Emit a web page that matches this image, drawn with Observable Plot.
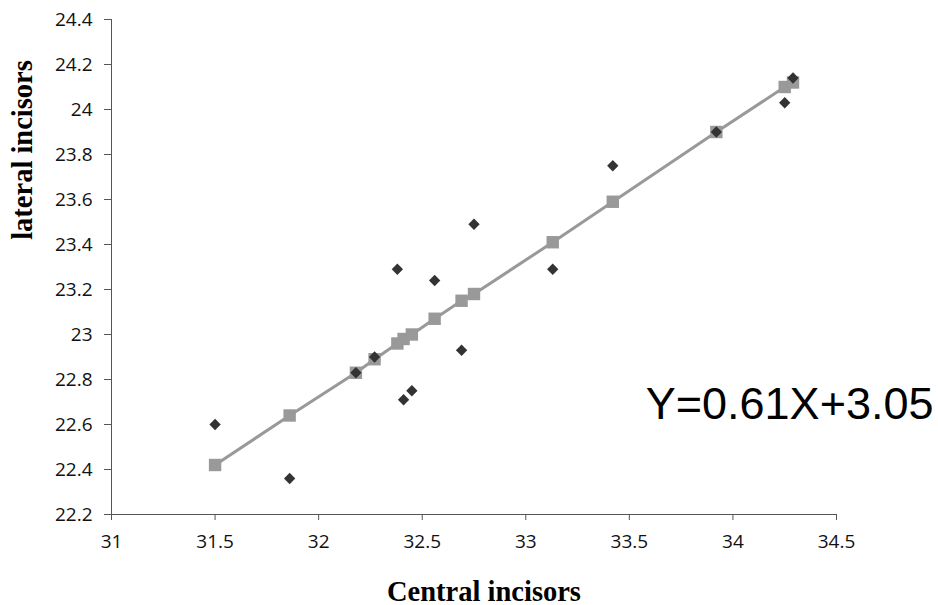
<!DOCTYPE html>
<html>
<head>
<meta charset="utf-8">
<script src="https://cdn.jsdelivr.net/npm/d3@7"></script>
<script src="https://cdn.jsdelivr.net/npm/@observablehq/plot@0.6"></script>
<style>
  html, body { margin: 0; padding: 0; background: #fff; }
  #chart g[aria-label$="tick label"] text,
  #chart g[aria-label$="tick label"] {
    font-size: 19px !important;
    font-family: 'Open Sans', 'DejaVu Sans', sans-serif !important;
    fill: #111;
  }
</style>
</head>
<body>
<div id="chart"></div>
<script>
// Observed values (diamonds)
const central = [31.5, 31.86, 32.18, 32.27, 32.38, 32.41, 32.45, 32.56, 32.69, 32.75, 33.13, 33.42, 33.92, 34.25, 34.29];
const lateral = [22.6, 22.36, 22.83, 22.9, 23.29, 22.71, 22.75, 23.24, 22.93, 23.49, 23.29, 23.75, 23.9, 24.03, 24.14];
// Predicted values (grey squares on the regression line)
const predicted = [22.42, 22.64, 22.83, 22.89, 22.96, 22.98, 23.0, 23.07, 23.15, 23.18, 23.41, 23.59, 23.9, 24.1, 24.12];
const xTicks = [31, 31.5, 32, 32.5, 33, 33.5, 34, 34.5];
const yTicks = [22.2, 22.4, 22.6, 22.8, 23, 23.2, 23.4, 23.6, 23.8, 24, 24.2, 24.4];
const xTitle = "Central incisors";
const yTitle = "lateral incisors";
const equation = "Y=0.61X+3.05";

const observed = central.map((c, i) => ({x: c, y: lateral[i]}));
const fitted = central.map((c, i) => ({x: c, y: predicted[i]})).sort((a, b) => a.x - b.x);

const titleFont = {fontFamily: "Liberation Serif, Times New Roman, serif", fontWeight: "bold", fontSize: 28.5, fill: "#000"};

const chart = Plot.plot({
  width: 938,
  height: 605,
  marginLeft: 111,
  marginRight: 102,
  marginTop: 19,
  marginBottom: 91,
  style: {background: "#fff", overflow: "visible"},
  x: {domain: [31, 34.5]},
  y: {domain: [22.2, 24.4]},
  marks: [
    Plot.ruleX([31], {stroke: "#555", strokeWidth: 1}),
    Plot.ruleY([22.2], {stroke: "#555", strokeWidth: 1}),
    Plot.axisX({ticks: xTicks, tickSize: 6, tickPadding: 14, label: null, stroke: "#555",
      tickFormat: d => String(d), fontSize: 19}),
    Plot.axisY({ticks: yTicks, tickSize: 7, tickPadding: 12, label: null, stroke: "#555",
      tickFormat: d => String(d), fontSize: 19}),
    Plot.line(fitted, {x: "x", y: "y", stroke: "#999", strokeWidth: 3}),
    Plot.dot(fitted, {x: "x", y: "y", symbol: "square", r: 7, fill: "#999", stroke: "none"}),
    Plot.dot(observed, {x: "x", y: "y", symbol: "diamond2", r: 5.1, fill: "#333", stroke: "none"}),
    Plot.text([equation], {frameAnchor: "right", textAnchor: "end", lineAnchor: "middle", dx: 97, dy: 138,
      fontFamily: "Liberation Sans, Arial, sans-serif", fontSize: 45, fill: "#000"}),
    Plot.text([xTitle], {frameAnchor: "bottom", textAnchor: "middle", lineAnchor: "middle", dx: 10, dy: 77, ...titleFont}),
    Plot.text([yTitle], {frameAnchor: "left", textAnchor: "middle", lineAnchor: "middle", dx: -89, dy: -117, rotate: -90, ...titleFont})
  ]
});
document.getElementById("chart").appendChild(chart);
</script>
</body>
</html>
